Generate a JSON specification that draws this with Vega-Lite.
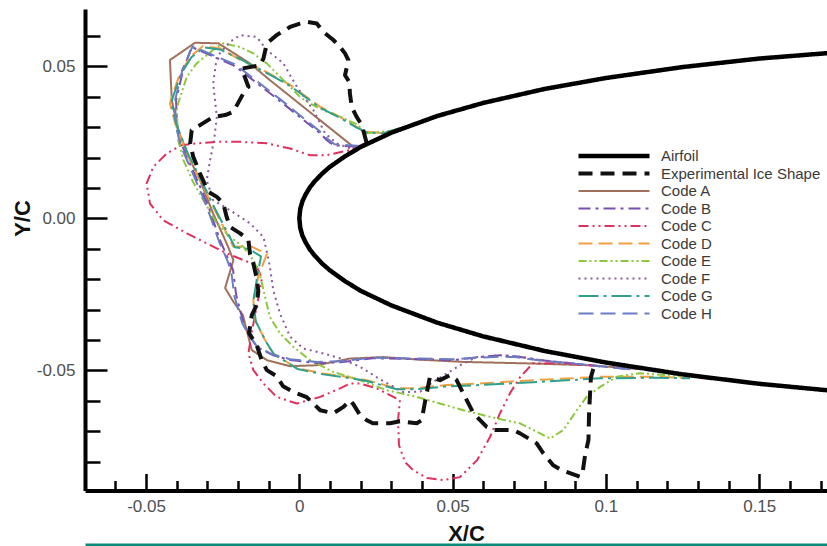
{
"$schema":"https://vega.github.io/schema/vega-lite/v6.json",
"width":742,"height":481.5,
"autosize":{"type":"none"},
"padding":{"left":85,"top":9,"right":0,"bottom":55.5},
"background":"white",
"config":{"view":{"stroke":null},"font":"Liberation Sans"},
"data":{"values":[
{"s":"Code A","i":0,"x":0.0176,"y":0.0236},{"s":"Code A","i":1,"x":0.0100,"y":0.0297},{"s":"Code A","i":2,"x":0.0002,"y":0.0376},{"s":"Code A","i":3,"x":-0.0096,"y":0.0455},{"s":"Code A","i":4,"x":-0.0161,"y":0.0510},{"s":"Code A","i":5,"x":-0.0264,"y":0.0576},{"s":"Code A","i":6,"x":-0.0340,"y":0.0578},{"s":"Code A","i":7,"x":-0.0422,"y":0.0521},{"s":"Code A","i":8,"x":-0.0416,"y":0.0389},{"s":"Code A","i":9,"x":-0.0395,"y":0.0290},{"s":"Code A","i":10,"x":-0.0356,"y":0.0192},{"s":"Code A","i":11,"x":-0.0324,"y":0.0126},{"s":"Code A","i":12,"x":-0.0281,"y":0.0016},{"s":"Code A","i":13,"x":-0.0237,"y":-0.0082},{"s":"Code A","i":14,"x":-0.0215,"y":-0.0137},{"s":"Code A","i":15,"x":-0.0242,"y":-0.0229},{"s":"Code A","i":16,"x":-0.0215,"y":-0.0274},{"s":"Code A","i":17,"x":-0.0184,"y":-0.0318},{"s":"Code A","i":18,"x":-0.0172,"y":-0.0367},{"s":"Code A","i":19,"x":-0.0155,"y":-0.0433},{"s":"Code A","i":20,"x":-0.0106,"y":-0.0466},{"s":"Code A","i":21,"x":-0.0030,"y":-0.0486},{"s":"Code A","i":22,"x":0.0057,"y":-0.0483},{"s":"Code A","i":23,"x":0.0165,"y":-0.0461},{"s":"Code A","i":24,"x":0.0274,"y":-0.0456},{"s":"Code A","i":25,"x":0.0383,"y":-0.0464},{"s":"Code A","i":26,"x":0.0534,"y":-0.0472},{"s":"Code A","i":27,"x":0.0752,"y":-0.0477},{"s":"Code A","i":28,"x":0.0948,"y":-0.0483},{"s":"Code A","i":29,"x":0.1111,"y":-0.0496},
{"s":"Code B","i":0,"x":0.0187,"y":0.0236},{"s":"Code B","i":1,"x":0.0111,"y":0.0241},{"s":"Code B","i":2,"x":0.0089,"y":0.0258},{"s":"Code B","i":3,"x":0.0068,"y":0.0280},{"s":"Code B","i":4,"x":-0.0063,"y":0.0386},{"s":"Code B","i":5,"x":-0.0193,"y":0.0488},{"s":"Code B","i":6,"x":-0.0215,"y":0.0504},{"s":"Code B","i":7,"x":-0.0351,"y":0.0564},{"s":"Code B","i":8,"x":-0.0379,"y":0.0488},{"s":"Code B","i":9,"x":-0.0402,"y":0.0389},{"s":"Code B","i":10,"x":-0.0399,"y":0.0307},{"s":"Code B","i":11,"x":-0.0383,"y":0.0241},{"s":"Code B","i":12,"x":-0.0340,"y":0.0142},{"s":"Code B","i":13,"x":-0.0298,"y":0.0044},{"s":"Code B","i":14,"x":-0.0259,"y":-0.0071},{"s":"Code B","i":15,"x":-0.0233,"y":-0.0131},{"s":"Code B","i":16,"x":-0.0216,"y":-0.0170},{"s":"Code B","i":17,"x":-0.0206,"y":-0.0252},{"s":"Code B","i":18,"x":-0.0193,"y":-0.0302},{"s":"Code B","i":19,"x":-0.0180,"y":-0.0351},{"s":"Code B","i":20,"x":-0.0164,"y":-0.0384},{"s":"Code B","i":21,"x":-0.0138,"y":-0.0423},{"s":"Code B","i":22,"x":-0.0086,"y":-0.0450},{"s":"Code B","i":23,"x":-0.0030,"y":-0.0466},{"s":"Code B","i":24,"x":0.0058,"y":-0.0476},{"s":"Code B","i":25,"x":0.0133,"y":-0.0473},{"s":"Code B","i":26,"x":0.0240,"y":-0.0460},{"s":"Code B","i":27,"x":0.0394,"y":-0.0463},{"s":"Code B","i":28,"x":0.0501,"y":-0.0466},{"s":"Code B","i":29,"x":0.0589,"y":-0.0456},{"s":"Code B","i":30,"x":0.0655,"y":-0.0450},{"s":"Code B","i":31,"x":0.0704,"y":-0.0453},{"s":"Code B","i":32,"x":0.0785,"y":-0.0466},{"s":"Code B","i":33,"x":0.0981,"y":-0.0486},{"s":"Code B","i":34,"x":0.1079,"y":-0.0496},
{"s":"Code C","i":0,"x":0.0459,"y":0.0343},{"s":"Code C","i":1,"x":0.0328,"y":0.0294},{"s":"Code C","i":2,"x":0.0231,"y":0.0254},{"s":"Code C","i":3,"x":0.0165,"y":0.0225},{"s":"Code C","i":4,"x":0.0089,"y":0.0208},{"s":"Code C","i":5,"x":0.0035,"y":0.0208},{"s":"Code C","i":6,"x":-0.0030,"y":0.0230},{"s":"Code C","i":7,"x":-0.0106,"y":0.0247},{"s":"Code C","i":8,"x":-0.0193,"y":0.0252},{"s":"Code C","i":9,"x":-0.0269,"y":0.0252},{"s":"Code C","i":10,"x":-0.0335,"y":0.0247},{"s":"Code C","i":11,"x":-0.0384,"y":0.0241},{"s":"Code C","i":12,"x":-0.0432,"y":0.0214},{"s":"Code C","i":13,"x":-0.0476,"y":0.0170},{"s":"Code C","i":14,"x":-0.0498,"y":0.0115},{"s":"Code C","i":15,"x":-0.0487,"y":0.0049},{"s":"Code C","i":16,"x":-0.0444,"y":-0.0006},{"s":"Code C","i":17,"x":-0.0367,"y":-0.0049},{"s":"Code C","i":18,"x":-0.0302,"y":-0.0082},{"s":"Code C","i":19,"x":-0.0237,"y":-0.0115},{"s":"Code C","i":20,"x":-0.0183,"y":-0.0137},{"s":"Code C","i":21,"x":-0.0141,"y":-0.0154},{"s":"Code C","i":22,"x":-0.0122,"y":-0.0196},{"s":"Code C","i":23,"x":-0.0135,"y":-0.0269},{"s":"Code C","i":24,"x":-0.0154,"y":-0.0367},{"s":"Code C","i":25,"x":-0.0166,"y":-0.0444},{"s":"Code C","i":26,"x":-0.0150,"y":-0.0499},{"s":"Code C","i":27,"x":-0.0117,"y":-0.0543},{"s":"Code C","i":28,"x":-0.0074,"y":-0.0587},{"s":"Code C","i":29,"x":-0.0008,"y":-0.0609},{"s":"Code C","i":30,"x":0.0068,"y":-0.0587},{"s":"Code C","i":31,"x":0.0133,"y":-0.0559},{"s":"Code C","i":32,"x":0.0165,"y":-0.0543},{"s":"Code C","i":33,"x":0.0198,"y":-0.0543},{"s":"Code C","i":34,"x":0.0252,"y":-0.0559},{"s":"Code C","i":35,"x":0.0328,"y":-0.0598},{"s":"Code C","i":36,"x":0.0322,"y":-0.0664},{"s":"Code C","i":37,"x":0.0325,"y":-0.0746},{"s":"Code C","i":38,"x":0.0345,"y":-0.0802},{"s":"Code C","i":39,"x":0.0371,"y":-0.0828},{"s":"Code C","i":40,"x":0.0417,"y":-0.0854},{"s":"Code C","i":41,"x":0.0469,"y":-0.0861},{"s":"Code C","i":42,"x":0.0524,"y":-0.0851},{"s":"Code C","i":43,"x":0.0580,"y":-0.0795},{"s":"Code C","i":44,"x":0.0622,"y":-0.0719},{"s":"Code C","i":45,"x":0.0655,"y":-0.0640},{"s":"Code C","i":46,"x":0.0687,"y":-0.0575},{"s":"Code C","i":47,"x":0.0720,"y":-0.0522},{"s":"Code C","i":48,"x":0.0762,"y":-0.0476},{"s":"Code C","i":49,"x":0.0850,"y":-0.0476},{"s":"Code C","i":50,"x":0.0981,"y":-0.0486},
{"s":"Code D","i":0,"x":0.0328,"y":0.0297},{"s":"Code D","i":1,"x":0.0274,"y":0.0280},{"s":"Code D","i":2,"x":0.0220,"y":0.0285},{"s":"Code D","i":3,"x":0.0187,"y":0.0301},{"s":"Code D","i":4,"x":0.0133,"y":0.0334},{"s":"Code D","i":5,"x":0.0068,"y":0.0367},{"s":"Code D","i":6,"x":-0.0030,"y":0.0439},{"s":"Code D","i":7,"x":-0.0118,"y":0.0488},{"s":"Code D","i":8,"x":-0.0193,"y":0.0522},{"s":"Code D","i":9,"x":-0.0259,"y":0.0560},{"s":"Code D","i":10,"x":-0.0314,"y":0.0567},{"s":"Code D","i":11,"x":-0.0356,"y":0.0532},{"s":"Code D","i":12,"x":-0.0389,"y":0.0477},{"s":"Code D","i":13,"x":-0.0416,"y":0.0400},{"s":"Code D","i":14,"x":-0.0422,"y":0.0378},{"s":"Code D","i":15,"x":-0.0405,"y":0.0313},{"s":"Code D","i":16,"x":-0.0367,"y":0.0214},{"s":"Code D","i":17,"x":-0.0324,"y":0.0126},{"s":"Code D","i":18,"x":-0.0281,"y":0.0038},{"s":"Code D","i":19,"x":-0.0237,"y":-0.0049},{"s":"Code D","i":20,"x":-0.0215,"y":-0.0093},{"s":"Code D","i":21,"x":-0.0155,"y":-0.0093},{"s":"Code D","i":22,"x":-0.0106,"y":-0.0117},{"s":"Code D","i":23,"x":-0.0134,"y":-0.0192},{"s":"Code D","i":24,"x":-0.0150,"y":-0.0269},{"s":"Code D","i":25,"x":-0.0144,"y":-0.0335},{"s":"Code D","i":26,"x":-0.0112,"y":-0.0400},{"s":"Code D","i":27,"x":-0.0085,"y":-0.0444},{"s":"Code D","i":28,"x":-0.0008,"y":-0.0493},{"s":"Code D","i":29,"x":0.0078,"y":-0.0510},{"s":"Code D","i":30,"x":0.0155,"y":-0.0521},{"s":"Code D","i":31,"x":0.0220,"y":-0.0532},{"s":"Code D","i":32,"x":0.0318,"y":-0.0559},{"s":"Code D","i":33,"x":0.0372,"y":-0.0559},{"s":"Code D","i":34,"x":0.0481,"y":-0.0548},{"s":"Code D","i":35,"x":0.0589,"y":-0.0543},{"s":"Code D","i":36,"x":0.0763,"y":-0.0532},{"s":"Code D","i":37,"x":0.0981,"y":-0.0521},{"s":"Code D","i":38,"x":0.1166,"y":-0.0521},{"s":"Code D","i":39,"x":0.1274,"y":-0.0525},
{"s":"Code E","i":0,"x":0.0312,"y":0.0290},{"s":"Code E","i":1,"x":0.0220,"y":0.0280},{"s":"Code E","i":2,"x":0.0187,"y":0.0310},{"s":"Code E","i":3,"x":0.0133,"y":0.0334},{"s":"Code E","i":4,"x":0.0078,"y":0.0356},{"s":"Code E","i":5,"x":0.0035,"y":0.0378},{"s":"Code E","i":6,"x":0.0002,"y":0.0400},{"s":"Code E","i":7,"x":-0.0052,"y":0.0455},{"s":"Code E","i":8,"x":-0.0106,"y":0.0510},{"s":"Code E","i":9,"x":-0.0150,"y":0.0543},{"s":"Code E","i":10,"x":-0.0193,"y":0.0564},{"s":"Code E","i":11,"x":-0.0248,"y":0.0576},{"s":"Code E","i":12,"x":-0.0269,"y":0.0564},{"s":"Code E","i":13,"x":-0.0335,"y":0.0510},{"s":"Code E","i":14,"x":-0.0367,"y":0.0466},{"s":"Code E","i":15,"x":-0.0400,"y":0.0363},{"s":"Code E","i":16,"x":-0.0395,"y":0.0258},{"s":"Code E","i":17,"x":-0.0378,"y":0.0192},{"s":"Code E","i":18,"x":-0.0346,"y":0.0119},{"s":"Code E","i":19,"x":-0.0313,"y":0.0060},{"s":"Code E","i":20,"x":-0.0269,"y":-0.0016},{"s":"Code E","i":21,"x":-0.0226,"y":-0.0061},{"s":"Code E","i":22,"x":-0.0183,"y":-0.0093},{"s":"Code E","i":23,"x":-0.0150,"y":-0.0137},{"s":"Code E","i":24,"x":-0.0128,"y":-0.0187},{"s":"Code E","i":25,"x":-0.0117,"y":-0.0236},{"s":"Code E","i":26,"x":-0.0096,"y":-0.0324},{"s":"Code E","i":27,"x":-0.0063,"y":-0.0378},{"s":"Code E","i":28,"x":-0.0020,"y":-0.0422},{"s":"Code E","i":29,"x":0.0035,"y":-0.0466},{"s":"Code E","i":30,"x":0.0111,"y":-0.0505},{"s":"Code E","i":31,"x":0.0198,"y":-0.0532},{"s":"Code E","i":32,"x":0.0285,"y":-0.0565},{"s":"Code E","i":33,"x":0.0383,"y":-0.0587},{"s":"Code E","i":34,"x":0.0535,"y":-0.0631},{"s":"Code E","i":35,"x":0.0644,"y":-0.0658},{"s":"Code E","i":36,"x":0.0720,"y":-0.0674},{"s":"Code E","i":37,"x":0.0785,"y":-0.0707},{"s":"Code E","i":38,"x":0.0818,"y":-0.0724},{"s":"Code E","i":39,"x":0.0861,"y":-0.0696},{"s":"Code E","i":40,"x":0.0905,"y":-0.0631},{"s":"Code E","i":41,"x":0.0937,"y":-0.0587},{"s":"Code E","i":42,"x":0.0981,"y":-0.0554},{"s":"Code E","i":43,"x":0.1035,"y":-0.0521},{"s":"Code E","i":44,"x":0.1111,"y":-0.0509},{"s":"Code E","i":45,"x":0.1242,"y":-0.0519},
{"s":"Code F","i":0,"x":0.0165,"y":0.0231},{"s":"Code F","i":1,"x":0.0122,"y":0.0247},{"s":"Code F","i":2,"x":0.0084,"y":0.0280},{"s":"Code F","i":3,"x":0.0046,"y":0.0356},{"s":"Code F","i":4,"x":-0.0008,"y":0.0433},{"s":"Code F","i":5,"x":-0.0052,"y":0.0510},{"s":"Code F","i":6,"x":-0.0106,"y":0.0554},{"s":"Code F","i":7,"x":-0.0139,"y":0.0597},{"s":"Code F","i":8,"x":-0.0193,"y":0.0603},{"s":"Code F","i":9,"x":-0.0226,"y":0.0581},{"s":"Code F","i":10,"x":-0.0269,"y":0.0532},{"s":"Code F","i":11,"x":-0.0281,"y":0.0444},{"s":"Code F","i":12,"x":-0.0269,"y":0.0334},{"s":"Code F","i":13,"x":-0.0278,"y":0.0258},{"s":"Code F","i":14,"x":-0.0291,"y":0.0192},{"s":"Code F","i":15,"x":-0.0302,"y":0.0126},{"s":"Code F","i":16,"x":-0.0281,"y":0.0060},{"s":"Code F","i":17,"x":-0.0226,"y":0.0027},{"s":"Code F","i":18,"x":-0.0161,"y":-0.0016},{"s":"Code F","i":19,"x":-0.0117,"y":-0.0061},{"s":"Code F","i":20,"x":-0.0105,"y":-0.0114},{"s":"Code F","i":21,"x":-0.0096,"y":-0.0159},{"s":"Code F","i":22,"x":-0.0085,"y":-0.0236},{"s":"Code F","i":23,"x":-0.0063,"y":-0.0313},{"s":"Code F","i":24,"x":-0.0030,"y":-0.0389},{"s":"Code F","i":25,"x":0.0013,"y":-0.0428},{"s":"Code F","i":26,"x":0.0078,"y":-0.0444},{"s":"Code F","i":27,"x":0.0133,"y":-0.0460},{"s":"Code F","i":28,"x":0.0198,"y":-0.0488},{"s":"Code F","i":29,"x":0.0263,"y":-0.0529},{"s":"Code F","i":30,"x":0.0339,"y":-0.0571},{"s":"Code F","i":31,"x":0.0394,"y":-0.0570},{"s":"Code F","i":32,"x":0.0436,"y":-0.0538},{"s":"Code F","i":33,"x":0.0481,"y":-0.0510},{"s":"Code F","i":34,"x":0.0524,"y":-0.0483},{"s":"Code F","i":35,"x":0.0579,"y":-0.0456},{"s":"Code F","i":36,"x":0.0655,"y":-0.0450},{"s":"Code F","i":37,"x":0.0720,"y":-0.0455},{"s":"Code F","i":38,"x":0.0785,"y":-0.0466},{"s":"Code F","i":39,"x":0.0916,"y":-0.0479},
{"s":"Code G","i":0,"x":0.0328,"y":0.0297},{"s":"Code G","i":1,"x":0.0274,"y":0.0280},{"s":"Code G","i":2,"x":0.0220,"y":0.0283},{"s":"Code G","i":3,"x":0.0187,"y":0.0299},{"s":"Code G","i":4,"x":0.0133,"y":0.0331},{"s":"Code G","i":5,"x":0.0068,"y":0.0364},{"s":"Code G","i":6,"x":-0.0030,"y":0.0436},{"s":"Code G","i":7,"x":-0.0118,"y":0.0485},{"s":"Code G","i":8,"x":-0.0193,"y":0.0524},{"s":"Code G","i":9,"x":-0.0259,"y":0.0556},{"s":"Code G","i":10,"x":-0.0310,"y":0.0563},{"s":"Code G","i":11,"x":-0.0352,"y":0.0530},{"s":"Code G","i":12,"x":-0.0386,"y":0.0475},{"s":"Code G","i":13,"x":-0.0412,"y":0.0400},{"s":"Code G","i":14,"x":-0.0418,"y":0.0378},{"s":"Code G","i":15,"x":-0.0402,"y":0.0313},{"s":"Code G","i":16,"x":-0.0364,"y":0.0214},{"s":"Code G","i":17,"x":-0.0320,"y":0.0126},{"s":"Code G","i":18,"x":-0.0278,"y":0.0038},{"s":"Code G","i":19,"x":-0.0233,"y":-0.0049},{"s":"Code G","i":20,"x":-0.0210,"y":-0.0095},{"s":"Code G","i":21,"x":-0.0165,"y":-0.0100},{"s":"Code G","i":22,"x":-0.0125,"y":-0.0125},{"s":"Code G","i":23,"x":-0.0138,"y":-0.0195},{"s":"Code G","i":24,"x":-0.0150,"y":-0.0272},{"s":"Code G","i":25,"x":-0.0142,"y":-0.0338},{"s":"Code G","i":26,"x":-0.0110,"y":-0.0403},{"s":"Code G","i":27,"x":-0.0083,"y":-0.0447},{"s":"Code G","i":28,"x":-0.0006,"y":-0.0495},{"s":"Code G","i":29,"x":0.0078,"y":-0.0513},{"s":"Code G","i":30,"x":0.0155,"y":-0.0524},{"s":"Code G","i":31,"x":0.0220,"y":-0.0535},{"s":"Code G","i":32,"x":0.0318,"y":-0.0562},{"s":"Code G","i":33,"x":0.0372,"y":-0.0562},{"s":"Code G","i":34,"x":0.0481,"y":-0.0553},{"s":"Code G","i":35,"x":0.0589,"y":-0.0548},{"s":"Code G","i":36,"x":0.0763,"y":-0.0539},{"s":"Code G","i":37,"x":0.0981,"y":-0.0526},{"s":"Code G","i":38,"x":0.1166,"y":-0.0524},{"s":"Code G","i":39,"x":0.1274,"y":-0.0526},
{"s":"Code H","i":0,"x":0.0199,"y":0.0238},{"s":"Code H","i":1,"x":0.0115,"y":0.0244},{"s":"Code H","i":2,"x":0.0092,"y":0.0262},{"s":"Code H","i":3,"x":0.0071,"y":0.0283},{"s":"Code H","i":4,"x":-0.0060,"y":0.0390},{"s":"Code H","i":5,"x":-0.0190,"y":0.0492},{"s":"Code H","i":6,"x":-0.0213,"y":0.0508},{"s":"Code H","i":7,"x":-0.0348,"y":0.0566},{"s":"Code H","i":8,"x":-0.0381,"y":0.0490},{"s":"Code H","i":9,"x":-0.0405,"y":0.0390},{"s":"Code H","i":10,"x":-0.0403,"y":0.0305},{"s":"Code H","i":11,"x":-0.0387,"y":0.0240},{"s":"Code H","i":12,"x":-0.0344,"y":0.0140},{"s":"Code H","i":13,"x":-0.0302,"y":0.0040},{"s":"Code H","i":14,"x":-0.0262,"y":-0.0075},{"s":"Code H","i":15,"x":-0.0236,"y":-0.0135},{"s":"Code H","i":16,"x":-0.0222,"y":-0.0175},{"s":"Code H","i":17,"x":-0.0212,"y":-0.0255},{"s":"Code H","i":18,"x":-0.0199,"y":-0.0300},{"s":"Code H","i":19,"x":-0.0186,"y":-0.0345},{"s":"Code H","i":20,"x":-0.0168,"y":-0.0378},{"s":"Code H","i":21,"x":-0.0140,"y":-0.0418},{"s":"Code H","i":22,"x":-0.0090,"y":-0.0447},{"s":"Code H","i":23,"x":-0.0030,"y":-0.0463},{"s":"Code H","i":24,"x":0.0058,"y":-0.0472},{"s":"Code H","i":25,"x":0.0133,"y":-0.0470},{"s":"Code H","i":26,"x":0.0240,"y":-0.0458},{"s":"Code H","i":27,"x":0.0394,"y":-0.0461},{"s":"Code H","i":28,"x":0.0501,"y":-0.0463},{"s":"Code H","i":29,"x":0.0589,"y":-0.0458},{"s":"Code H","i":30,"x":0.0655,"y":-0.0455},{"s":"Code H","i":31,"x":0.0704,"y":-0.0456},{"s":"Code H","i":32,"x":0.0785,"y":-0.0467},{"s":"Code H","i":33,"x":0.0981,"y":-0.0486},{"s":"Code H","i":34,"x":0.1079,"y":-0.0496},
{"s":"Experimental Ice Shape","i":0,"x":0.0220,"y":0.0247},{"s":"Experimental Ice Shape","i":1,"x":0.0204,"y":0.0307},{"s":"Experimental Ice Shape","i":2,"x":0.0187,"y":0.0334},{"s":"Experimental Ice Shape","i":3,"x":0.0171,"y":0.0367},{"s":"Experimental Ice Shape","i":4,"x":0.0165,"y":0.0411},{"s":"Experimental Ice Shape","i":5,"x":0.0163,"y":0.0449},{"s":"Experimental Ice Shape","i":6,"x":0.0149,"y":0.0471},{"s":"Experimental Ice Shape","i":7,"x":0.0160,"y":0.0521},{"s":"Experimental Ice Shape","i":8,"x":0.0149,"y":0.0543},{"s":"Experimental Ice Shape","i":9,"x":0.0133,"y":0.0564},{"s":"Experimental Ice Shape","i":10,"x":0.0111,"y":0.0587},{"s":"Experimental Ice Shape","i":11,"x":0.0078,"y":0.0614},{"s":"Experimental Ice Shape","i":12,"x":0.0057,"y":0.0641},{"s":"Experimental Ice Shape","i":13,"x":0.0024,"y":0.0647},{"s":"Experimental Ice Shape","i":14,"x":0.0002,"y":0.0641},{"s":"Experimental Ice Shape","i":15,"x":-0.0030,"y":0.0630},{"s":"Experimental Ice Shape","i":16,"x":-0.0074,"y":0.0603},{"s":"Experimental Ice Shape","i":17,"x":-0.0106,"y":0.0576},{"s":"Experimental Ice Shape","i":18,"x":-0.0117,"y":0.0526},{"s":"Experimental Ice Shape","i":19,"x":-0.0128,"y":0.0504},{"s":"Experimental Ice Shape","i":20,"x":-0.0188,"y":0.0493},{"s":"Experimental Ice Shape","i":21,"x":-0.0166,"y":0.0433},{"s":"Experimental Ice Shape","i":22,"x":-0.0177,"y":0.0422},{"s":"Experimental Ice Shape","i":23,"x":-0.0215,"y":0.0351},{"s":"Experimental Ice Shape","i":24,"x":-0.0242,"y":0.0340},{"s":"Experimental Ice Shape","i":25,"x":-0.0281,"y":0.0334},{"s":"Experimental Ice Shape","i":26,"x":-0.0324,"y":0.0307},{"s":"Experimental Ice Shape","i":27,"x":-0.0351,"y":0.0290},{"s":"Experimental Ice Shape","i":28,"x":-0.0356,"y":0.0247},{"s":"Experimental Ice Shape","i":29,"x":-0.0346,"y":0.0203},{"s":"Experimental Ice Shape","i":30,"x":-0.0324,"y":0.0148},{"s":"Experimental Ice Shape","i":31,"x":-0.0297,"y":0.0088},{"s":"Experimental Ice Shape","i":32,"x":-0.0269,"y":0.0071},{"s":"Experimental Ice Shape","i":33,"x":-0.0248,"y":0.0049},{"s":"Experimental Ice Shape","i":34,"x":-0.0237,"y":0.0005},{"s":"Experimental Ice Shape","i":35,"x":-0.0226,"y":-0.0028},{"s":"Experimental Ice Shape","i":36,"x":-0.0193,"y":-0.0049},{"s":"Experimental Ice Shape","i":37,"x":-0.0166,"y":-0.0071},{"s":"Experimental Ice Shape","i":38,"x":-0.0161,"y":-0.0115},{"s":"Experimental Ice Shape","i":39,"x":-0.0150,"y":-0.0148},{"s":"Experimental Ice Shape","i":40,"x":-0.0139,"y":-0.0197},{"s":"Experimental Ice Shape","i":41,"x":-0.0134,"y":-0.0236},{"s":"Experimental Ice Shape","i":42,"x":-0.0139,"y":-0.0285},{"s":"Experimental Ice Shape","i":43,"x":-0.0155,"y":-0.0318},{"s":"Experimental Ice Shape","i":44,"x":-0.0164,"y":-0.0377},{"s":"Experimental Ice Shape","i":45,"x":-0.0139,"y":-0.0417},{"s":"Experimental Ice Shape","i":46,"x":-0.0123,"y":-0.0466},{"s":"Experimental Ice Shape","i":47,"x":-0.0106,"y":-0.0499},{"s":"Experimental Ice Shape","i":48,"x":-0.0074,"y":-0.0519},{"s":"Experimental Ice Shape","i":49,"x":-0.0053,"y":-0.0552},{"s":"Experimental Ice Shape","i":50,"x":-0.0020,"y":-0.0571},{"s":"Experimental Ice Shape","i":51,"x":0.0024,"y":-0.0588},{"s":"Experimental Ice Shape","i":52,"x":0.0068,"y":-0.0631},{"s":"Experimental Ice Shape","i":53,"x":0.0111,"y":-0.0641},{"s":"Experimental Ice Shape","i":54,"x":0.0144,"y":-0.0620},{"s":"Experimental Ice Shape","i":55,"x":0.0165,"y":-0.0598},{"s":"Experimental Ice Shape","i":56,"x":0.0176,"y":-0.0611},{"s":"Experimental Ice Shape","i":57,"x":0.0198,"y":-0.0647},{"s":"Experimental Ice Shape","i":58,"x":0.0220,"y":-0.0664},{"s":"Experimental Ice Shape","i":59,"x":0.0240,"y":-0.0674},{"s":"Experimental Ice Shape","i":60,"x":0.0296,"y":-0.0674},{"s":"Experimental Ice Shape","i":61,"x":0.0328,"y":-0.0667},{"s":"Experimental Ice Shape","i":62,"x":0.0383,"y":-0.0674},{"s":"Experimental Ice Shape","i":63,"x":0.0399,"y":-0.0664},{"s":"Experimental Ice Shape","i":64,"x":0.0410,"y":-0.0603},{"s":"Experimental Ice Shape","i":65,"x":0.0426,"y":-0.0521},{"s":"Experimental Ice Shape","i":66,"x":0.0459,"y":-0.0532},{"s":"Experimental Ice Shape","i":67,"x":0.0492,"y":-0.0515},{"s":"Experimental Ice Shape","i":68,"x":0.0513,"y":-0.0532},{"s":"Experimental Ice Shape","i":69,"x":0.0546,"y":-0.0598},{"s":"Experimental Ice Shape","i":70,"x":0.0568,"y":-0.0641},{"s":"Experimental Ice Shape","i":71,"x":0.0611,"y":-0.0686},{"s":"Experimental Ice Shape","i":72,"x":0.0633,"y":-0.0696},{"s":"Experimental Ice Shape","i":73,"x":0.0698,"y":-0.0696},{"s":"Experimental Ice Shape","i":74,"x":0.0720,"y":-0.0707},{"s":"Experimental Ice Shape","i":75,"x":0.0774,"y":-0.0740},{"s":"Experimental Ice Shape","i":76,"x":0.0796,"y":-0.0773},{"s":"Experimental Ice Shape","i":77,"x":0.0828,"y":-0.0812},{"s":"Experimental Ice Shape","i":78,"x":0.0856,"y":-0.0828},{"s":"Experimental Ice Shape","i":79,"x":0.0916,"y":-0.0850},{"s":"Experimental Ice Shape","i":80,"x":0.0925,"y":-0.0828},{"s":"Experimental Ice Shape","i":81,"x":0.0932,"y":-0.0779},{"s":"Experimental Ice Shape","i":82,"x":0.0943,"y":-0.0729},{"s":"Experimental Ice Shape","i":83,"x":0.0945,"y":-0.0640},{"s":"Experimental Ice Shape","i":84,"x":0.0948,"y":-0.0581},{"s":"Experimental Ice Shape","i":85,"x":0.0951,"y":-0.0522},{"s":"Experimental Ice Shape","i":86,"x":0.0964,"y":-0.0477},
{"s":"Airfoil","i":0,"x":0.175,"y":0.0546},{"s":"Airfoil","i":1,"x":0.15,"y":0.0526},{"s":"Airfoil","i":2,"x":0.125,"y":0.0498},{"s":"Airfoil","i":3,"x":0.1,"y":0.0462},{"s":"Airfoil","i":4,"x":0.08,"y":0.0426},{"s":"Airfoil","i":5,"x":0.06,"y":0.0380},{"s":"Airfoil","i":6,"x":0.045,"y":0.0337},{"s":"Airfoil","i":7,"x":0.03,"y":0.0282},{"s":"Airfoil","i":8,"x":0.02,"y":0.0235},{"s":"Airfoil","i":9,"x":0.015,"y":0.0205},{"s":"Airfoil","i":10,"x":0.01,"y":0.0170},{"s":"Airfoil","i":11,"x":0.0075,"y":0.0148},{"s":"Airfoil","i":12,"x":0.005,"y":0.0122},{"s":"Airfoil","i":13,"x":0.0035,"y":0.0103},{"s":"Airfoil","i":14,"x":0.002,"y":0.0078},{"s":"Airfoil","i":15,"x":0.001,"y":0.0056},{"s":"Airfoil","i":16,"x":0.0003,"y":0.0031},{"s":"Airfoil","i":17,"x":0,"y":0},{"s":"Airfoil","i":18,"x":0.0003,"y":-0.0031},{"s":"Airfoil","i":19,"x":0.001,"y":-0.0056},{"s":"Airfoil","i":20,"x":0.002,"y":-0.0078},{"s":"Airfoil","i":21,"x":0.0035,"y":-0.0103},{"s":"Airfoil","i":22,"x":0.005,"y":-0.0122},{"s":"Airfoil","i":23,"x":0.0075,"y":-0.0149},{"s":"Airfoil","i":24,"x":0.01,"y":-0.0171},{"s":"Airfoil","i":25,"x":0.015,"y":-0.0207},{"s":"Airfoil","i":26,"x":0.02,"y":-0.0238},{"s":"Airfoil","i":27,"x":0.03,"y":-0.0286},{"s":"Airfoil","i":28,"x":0.045,"y":-0.0343},{"s":"Airfoil","i":29,"x":0.06,"y":-0.0388},{"s":"Airfoil","i":30,"x":0.08,"y":-0.0436},{"s":"Airfoil","i":31,"x":0.1,"y":-0.0474},{"s":"Airfoil","i":32,"x":0.125,"y":-0.0513},{"s":"Airfoil","i":33,"x":0.15,"y":-0.0544},{"s":"Airfoil","i":34,"x":0.175,"y":-0.0568}
]},
"resolve":{"axis":{"x":"independent","y":"independent"}},
"layer":[
{"mark":{"type":"line","clip":true,"strokeJoin":"round"},
"encoding":{
"x":{"field":"x","type":"quantitative","scale":{"domain":[-0.0699,0.1721],"nice":false,"zero":false},
 "axis":{"orient":"bottom","title":"X/C","titleFont":"Liberation Sans","titleFontSize":22,"titleFontWeight":"bold","titleColor":"#111111","titleX":381,"titleY":42.5,"titleBaseline":"middle","titleAlign":"center",
 "values":[-0.06,-0.05,-0.04,-0.03,-0.02,-0.01,0,0.01,0.02,0.03,0.04,0.05,0.06,0.07,0.08,0.09,0.1,0.11,0.12,0.13,0.14,0.15,0.16,0.17],
 "labelExpr":"abs(round(datum.value*100))%5==0 ? ''+datum.value : ''",
 "tickSize":{"condition":{"test":"abs(round(datum.value*100))%5==0","value":-17},"value":-10},
 "labelPadding":25,"labelBaseline":"top","labelFont":"Liberation Sans","labelFontSize":17,"labelColor":"#505050","labelOverlap":false,"labelFlush":false,"labelBound":false,
 "domainWidth":4,"domainColor":"#000000","tickWidth":2.5,"tickColor":"#000000","grid":false}},
"y":{"field":"y","type":"quantitative","scale":{"domain":[-0.0895,0.0689],"nice":false,"zero":false},
 "axis":{"orient":"left","title":"Y/C","titleFont":"Liberation Sans","titleFontSize":22,"titleFontWeight":"bold","titleColor":"#111111","titleX":-62.5,"titleY":209,"titleAngle":-90,"titleBaseline":"middle","titleAlign":"center",
 "values":[-0.08,-0.07,-0.06,-0.05,-0.04,-0.03,-0.02,-0.01,0,0.01,0.02,0.03,0.04,0.05,0.06],
 "labelExpr":"abs(round(datum.value*100))%5==0 ? replace(format(datum.value,'.2f'),'\u2212','-') : ''",
 "tickSize":{"condition":{"test":"abs(round(datum.value*100))%5==0","value":-22},"value":-15},
 "labelPadding":32,"labelAlign":"right","labelBaseline":"middle","labelFont":"Liberation Sans","labelFontSize":17,"labelColor":"#505050","labelOverlap":false,"labelFlush":false,"labelBound":false,
 "domainWidth":4,"domainColor":"#000000","tickWidth":2.5,"tickColor":"#000000","grid":false}},
"order":{"field":"i","type":"quantitative"},
"color":{"field":"s","type":"nominal",
 "scale":{"domain":["Airfoil","Experimental Ice Shape","Code A","Code B","Code C","Code D","Code E","Code F","Code G","Code H"],
 "range":["#000000","#111111","#a0705a","#7a4db0","#e0305c","#f0a040","#8cc83c","#8a5a9c","#2fa08c","#6a7cc4"]},
 "legend":{"title":null,"orient":"none","legendX":491,"legendY":138.5,"symbolType":"stroke","symbolSize":5041,"clipHeight":17,"rowPadding":0.5,"padding":0,"labelFont":"Liberation Sans","labelFontSize":15,"labelColor":"#3a3a3a","labelOffset":9,"symbolOffset":0,"labelLimit":400}},
"strokeDash":{"field":"s","type":"nominal",
 "scale":{"domain":["Airfoil","Experimental Ice Shape","Code A","Code B","Code C","Code D","Code E","Code F","Code G","Code H"],
 "range":[[1,0],[14,8],[1,0],[12,5,3,5],[10,4,2,4,2,4],[14,6],[8,3,2,3,2,3],[2,4],[20,5,3,5],[15,7]]},
 "legend":{"title":null}},
"strokeWidth":{"field":"s","type":"nominal",
 "scale":{"type":"ordinal","domain":["Airfoil","Experimental Ice Shape","Code A","Code B","Code C","Code D","Code E","Code F","Code G","Code H"],
 "range":[4.5,4,2,2,2,2,2,2,2,2]},
 "legend":{"title":null}}
}},
{"transform":[{"filter":"false"}],
 "mark":{"type":"line","clip":true},
 "encoding":{
 "x":{"field":"x","type":"quantitative","scale":{"domain":[-0.0699,0.1721],"nice":false,"zero":false},
  "axis":{"orient":"bottom","offset":54,"title":null,"labels":false,"ticks":false,"grid":false,"domainWidth":3,"domainColor":"#0b8a7a"}},
 "y":{"field":"y","type":"quantitative","scale":{"domain":[-0.0895,0.0689],"nice":false,"zero":false},"axis":null}
 }}
]
}
